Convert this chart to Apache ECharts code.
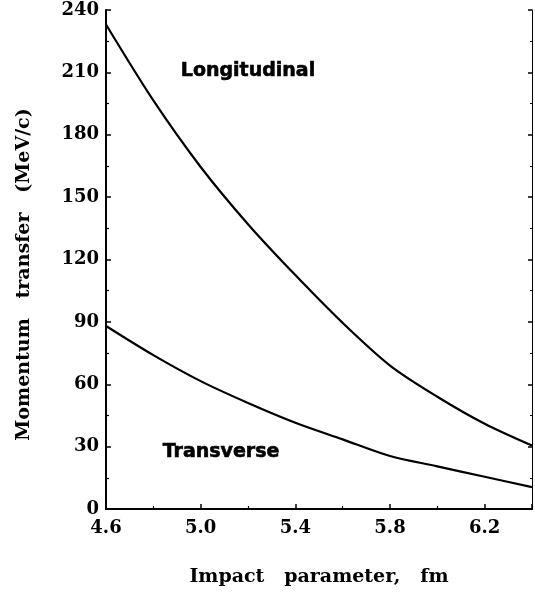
<!DOCTYPE html>
<html>
<head>
<meta charset="utf-8">
<script src="https://cdn.jsdelivr.net/npm/echarts@6/dist/echarts.min.js"></script>
<style>
  html, body { margin: 0; padding: 0; background: #fff; }
  #chart { width: 535px; height: 596px; }
</style>
</head>
<body>
<div id="chart"></div>
<script>
  // impact parameter (fm)
  var impact = [4.6, 4.8, 5.0, 5.2, 5.4, 5.6, 5.8, 6.0, 6.2, 6.4];
  // momentum transfer (MeV/c)
  var longitudinal = [233, 196.5, 164.5, 137, 112.5, 89.5, 69, 54, 41, 30.5];
  var transverse = [88, 74, 61.5, 51, 41.5, 33.5, 25.5, 20.5, 15.5, 10.5];
  var xTicks = [4.6, 5.0, 5.4, 5.8, 6.2];
  var yTicks = [0, 30, 60, 90, 120, 150, 180, 210, 240];

  var serif = 'DejaVu Serif';
  var sans = 'DejaVu Sans';

  function pairs(ys) {
    return impact.map(function (x, i) { return [x, ys[i]]; });
  }

  // text label placed at a data position
  function tag(text, x, y) {
    return {
      symbol: 'circle',
      symbolSize: 0,
      data: [{ coord: [x, y] }],
      label: {
        show: true, position: 'inside', formatter: text,
        fontFamily: sans, fontWeight: 900, fontSize: 19, color: '#000',
        textBorderColor: '#000', textBorderWidth: 0.6
      }
    };
  }

  var myChart = echarts.init(document.getElementById('chart'));

  var option = {
    animation: false,
    backgroundColor: '#fff',
    grid: { left: 106, right: 0, top: 10, bottom: 87 },
    xAxis: [{
      type: 'value',
      min: 4.6,
      max: 6.4,
      interval: 0.4,
      name: 'Impact   parameter,   fm',
      nameLocation: 'middle',
      nameGap: 59,
      nameTextStyle: { fontFamily: serif, fontWeight: 'bold', fontSize: 19, color: '#000' },
      axisLine: { lineStyle: { color: '#000', width: 2 } },
      axisTick: { inside: true, length: 5, lineStyle: { color: '#000', width: 1.5 } },
      minorTick: { show: true, splitNumber: 2, length: 3, lineStyle: { color: '#000', width: 1.2 } },
      splitLine: { show: false },
      axisLabel: {
        margin: 10,
        fontFamily: serif, fontWeight: 'bold', fontSize: 18, color: '#000',
        formatter: function (v) {
          var t = xTicks.find(function (k) { return Math.abs(k - v) < 1e-6; });
          return t === undefined ? '' : t.toFixed(1);
        }
      }
    }, {
      type: 'value',
      position: 'top',
      min: 4.6,
      max: 6.4,
      interval: 0.4,
      axisLine: { lineStyle: { color: '#000', width: 1.5 } },
      axisTick: { show: false },
      axisLabel: { show: false },
      splitLine: { show: false }
    }],
    yAxis: [{
      type: 'value',
      min: 0,
      max: 240,
      interval: 30,
      name: 'Momentum   transfer   (MeV/c)',
      nameLocation: 'middle',
      nameGap: 72,
      nameTextStyle: {
        fontFamily: serif, fontWeight: 'bold', fontSize: 19, color: '#000',
        padding: [0, 30, 0, 0]
      },
      axisLine: { lineStyle: { color: '#000', width: 2 } },
      axisTick: { inside: true, length: 5, lineStyle: { color: '#000', width: 1.5 } },
      minorTick: { show: true, splitNumber: 2, length: 3, lineStyle: { color: '#000', width: 1.2 } },
      splitLine: { show: false },
      axisLabel: {
        margin: 7,
        fontFamily: serif, fontWeight: 'bold', fontSize: 18, color: '#000',
        formatter: function (v) {
          return yTicks.indexOf(Math.round(v)) >= 0 ? String(Math.round(v)) : '';
        }
      }
    }, {
      type: 'value',
      position: 'right',
      min: 0,
      max: 240,
      interval: 30,
      axisLine: { show: true, lineStyle: { color: '#000', width: 1 } },
      axisTick: { inside: true, length: 4, lineStyle: { color: '#000', width: 1.5 } },
      minorTick: { show: true, splitNumber: 2, length: 2, lineStyle: { color: '#000', width: 1 } },
      axisLabel: { show: false },
      splitLine: { show: false }
    }],
    series: [{
      name: 'Longitudinal',
      type: 'line',
      data: pairs(longitudinal),
      smooth: 0.3,
      symbol: 'none',
      lineStyle: { color: '#000', width: 2.2 },
      markPoint: tag('Longitudinal', 5.2, 210.5)
    }, {
      name: 'Transverse',
      type: 'line',
      data: pairs(transverse),
      smooth: 0.3,
      symbol: 'none',
      lineStyle: { color: '#000', width: 2.2 },
      markPoint: tag('Transverse', 5.086, 27.5)
    }]
  };

  myChart.setOption(option);
</script>
</body>
</html>
